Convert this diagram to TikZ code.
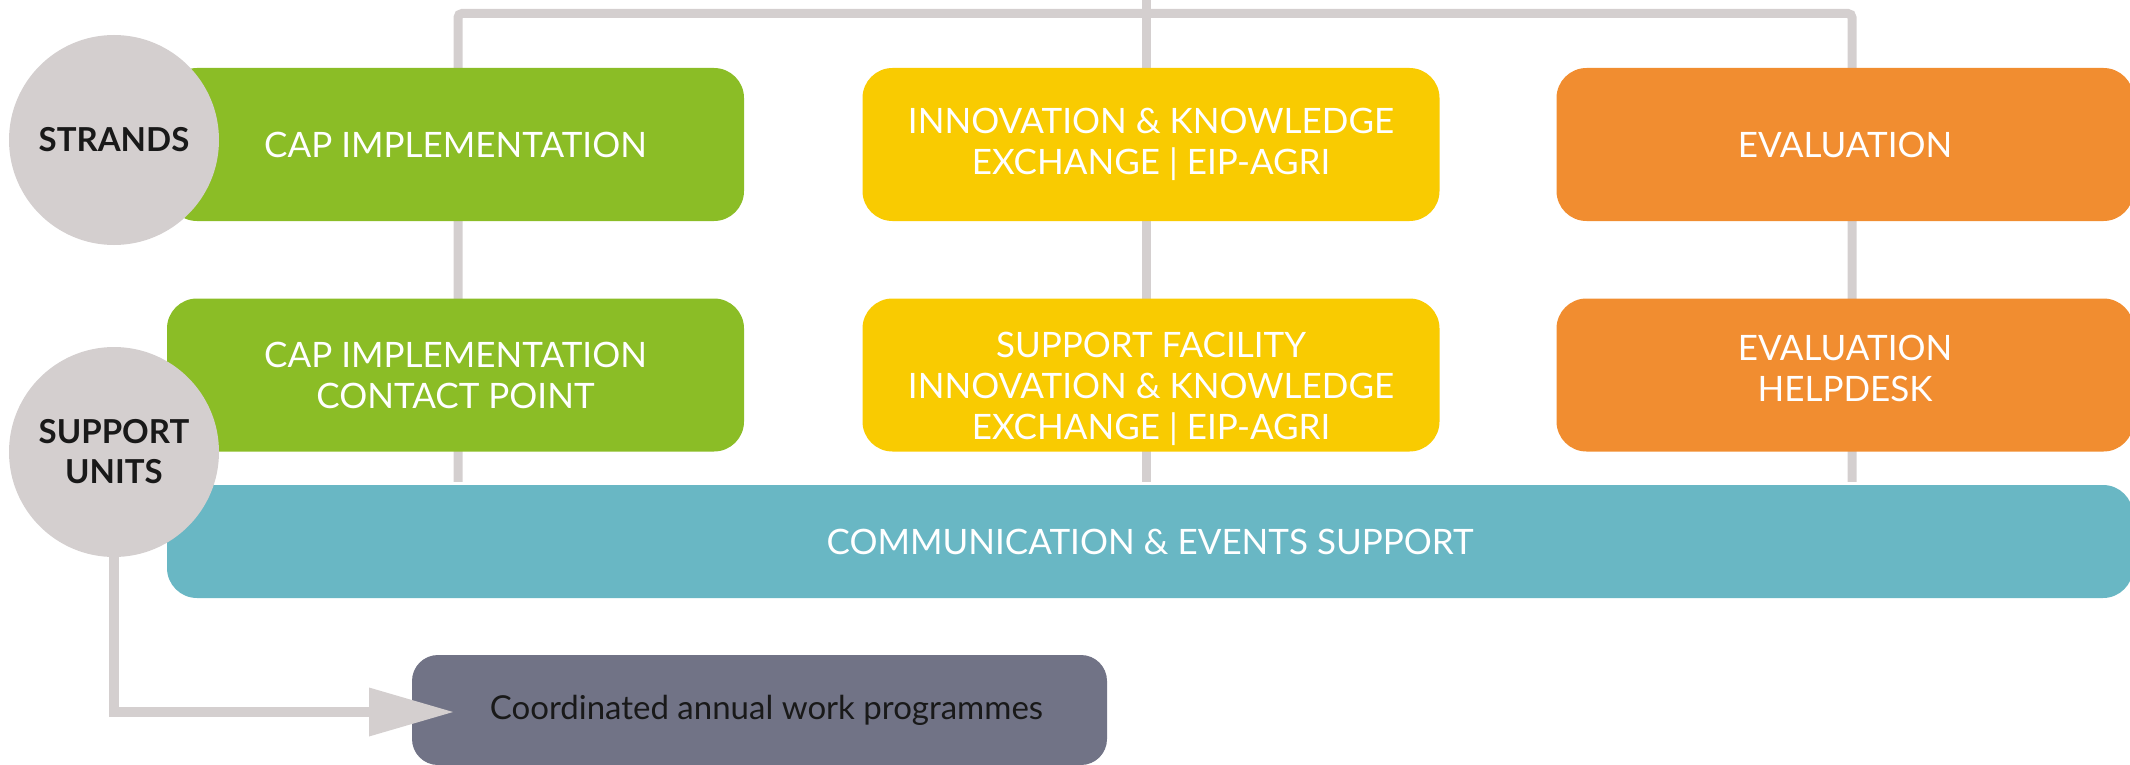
\documentclass[tikz,border=0pt]{standalone}
\usepackage{fontspec}
\setmainfont{Lato}
\definecolor{lgrey}{HTML}{D4CFCF}
\definecolor{cgreen}{HTML}{8BBD26}
\definecolor{cyellow}{HTML}{F9CB01}
\definecolor{corange}{HTML}{F18D30}
\definecolor{cteal}{HTML}{69B7C4}
\definecolor{cdark}{HTML}{717386}
\tikzset{
  conn/.style={draw=lgrey, line width=9pt},
  box/.style={rectangle, rounded corners=30pt, minimum width=577pt, minimum height=153pt,
    inner sep=0pt, text=white, font=\fontsize{35}{41}\selectfont, align=center},
  circ/.style={circle, fill=lgrey, minimum size=210pt, inner sep=0pt, text=black!90,
    font=\fontsize{33}{40}\selectfont\bfseries, align=center},
}
\begin{document}
\begin{tikzpicture}[x=1pt,y=-1pt]
\useasboundingbox (0,0) rectangle (2130,765);
% named joints of the top connector
\coordinate (L) at (458,13.5);
\coordinate (R) at (1852,13.5);
\coordinate (C) at (1146,0);
% communication box
\node[box, fill=cteal, minimum width=1966pt, minimum height=113pt] (comm) at (1150,541.5) {COMMUNICATION \& EVENTS SUPPORT};
% connectors behind strands and support units
\draw[conn, rounded corners=4pt] ([yshift=3pt]comm.north -| L) -- (L) -- (R) -- ([yshift=3pt]comm.north -| R);
\draw[conn] (C) -- ([yshift=3pt]comm.north -| C);
% strands
\node[box, fill=cgreen] (cap1) at (455.5,144.5) {CAP IMPLEMENTATION};
\node[box, fill=cyellow] (ike1) at (1151,144.5) {INNOVATION \& KNOWLEDGE\\EXCHANGE | EIP-AGRI};
\node[box, fill=corange] (ev1) at (1845,144.5) {EVALUATION};
% support units
\node[box, fill=cgreen] (cap2) at (455.5,375) {CAP IMPLEMENTATION\\CONTACT POINT};
\node[box, fill=cyellow] (ike2) at (1151,375) {\rule{0pt}{53pt}SUPPORT FACILITY\\INNOVATION \& KNOWLEDGE\\EXCHANGE | EIP-AGRI};
\node[box, fill=corange] (ev2) at (1845,375) {EVALUATION\\HELPDESK\rule[-14pt]{0pt}{0pt}};
% programme box
\node[box, fill=cdark, minimum width=695pt, minimum height=110pt, rounded corners=26pt,
  text=black!90, font=\fontsize{33}{38}\selectfont] (prog) at (759.5,710) {\hspace{14pt}Coordinated annual work programmes};
% circles
\node[circ] (strands) at (114,140) {STRANDS};
\node[circ] (su) at (114,452) {SUPPORT\\UNITS};
% arrow to programmes
\coordinate (tip) at (453,712);
\coordinate (abase) at (370,712);
\draw[conn, line width=10pt] (su.south) |- (abase);
\fill[lgrey] (tip) -- ++(-84,-24.5) -- ++(0,49) -- cycle;
\end{tikzpicture}
\end{document}
